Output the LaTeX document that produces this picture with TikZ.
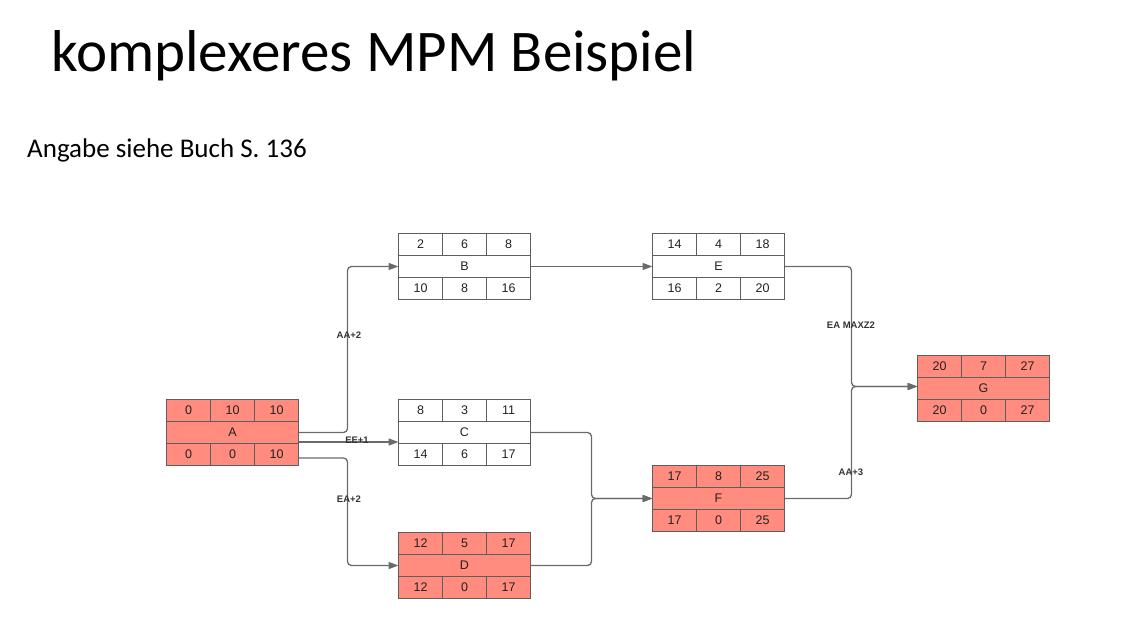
\documentclass[tikz,border=0pt]{standalone}
\usepackage{fontspec}
\setmainfont{Carlito}
\newfontfamily\arialf{Liberation Sans}
\usetikzlibrary{arrows.meta,calc}
\definecolor{salmon}{HTML}{FF8C7E}
\definecolor{bordergray}{HTML}{5E5E5E}
\definecolor{linegray}{HTML}{6A6A6A}
\definecolor{txtgray}{HTML}{222222}
\definecolor{lblgray}{HTML}{333333}
\tikzset{
  midrow/.style={draw=bordergray,line width=1.4pt,outer sep=0pt,minimum width=132pt,minimum height=22pt,inner sep=0pt,font=\arialf\fontsize{12.5}{13}\selectfont,text=txtgray},
  cellx/.style={draw=bordergray,line width=1.4pt,outer sep=0pt,minimum width=44pt,minimum height=22pt,inner sep=0pt,font=\arialf\fontsize{12.5}{13}\selectfont,text=txtgray},
  crit/.style={fill=salmon},
  norm/.style={fill=white},
  conn/.style={draw=linegray,line width=1.3pt,rounded corners=4pt,-{Triangle[length=10pt,width=7pt]}},
  lbl/.style={font=\arialf\bfseries\fontsize{9.5}{10}\selectfont,text=lblgray,inner sep=0pt},
}
\newcommand\mpmbox[7]{%
  \node[midrow,#4] (#1) at (#2,#3) {#5};
  \foreach \v [count=\i] in {#6}
    \node[cellx,#4,anchor=south west] (#1-t\i) at ($(#1.north west)+(\i*44-44,0)$) {\v};
  \foreach \v [count=\i] in {#7}
    \node[cellx,#4,anchor=north west] (#1-b\i) at ($(#1.south west)+(\i*44-44,0)$) {\v};
}
\begin{document}
\begin{tikzpicture}[x=1pt,y=-1pt]
\useasboundingbox (0,0) rectangle (1122,626);
\node[anchor=base west,inner sep=0pt,font=\fontsize{59}{59}\selectfont] (title) at (51,72) {komplexeres MPM Beispiel};
\node[anchor=base west,inner sep=0pt,font=\fontsize{27}{27}\selectfont] (sub) at (27,157) {Angabe siehe Buch S. 136};

\mpmbox{A}{232.5}{432.5}{crit}{A}{0,10,10}{0,0,10}
\mpmbox{B}{464.5}{266.5}{norm}{B}{2,6,8}{10,8,16}
\mpmbox{C}{464.5}{432.5}{norm}{C}{8,3,11}{14,6,17}
\mpmbox{D}{464.5}{565.5}{crit}{D}{12,5,17}{12,0,17}
\mpmbox{E}{718.5}{266.5}{norm}{E}{14,4,18}{16,2,20}
\mpmbox{F}{718.5}{498.5}{crit}{F}{17,8,25}{17,0,25}
\mpmbox{G}{983.5}{388.5}{crit}{G}{20,7,27}{20,0,27}

\draw[conn] (A.east) -- ++(49,0) |- (B.west);
\draw[conn] ([yshift=-9.5pt]A.east) coordinate (a2) -- (a2 -| C.west);
\draw[conn] ([yshift=-25.5pt]A.east) -- ++(49,0) |- (D.west);
\draw[conn] (B.east) -- (E.west);
\draw[conn] (C.east) -- ++(61,0) |- (F.west);
\draw[conn] (D.east) -- ++(61,0) |- (F.west);
\draw[conn] (E.east) -- ++(67,0) |- ([yshift=2pt]G.west);
\draw[conn] (F.east) -- ++(67,0) |- ([yshift=2pt]G.west);

\node[lbl] (l1) at (349,335) {AA+2};
\node[lbl] (l2) at (357,440) {EE+1};
\node[lbl] (l3) at (349,499) {EA+2};
\node[lbl] (l4) at (851,325) {EA MAXZ2};
\node[lbl] (l5) at (851,472) {AA+3};
\end{tikzpicture}
\end{document}
